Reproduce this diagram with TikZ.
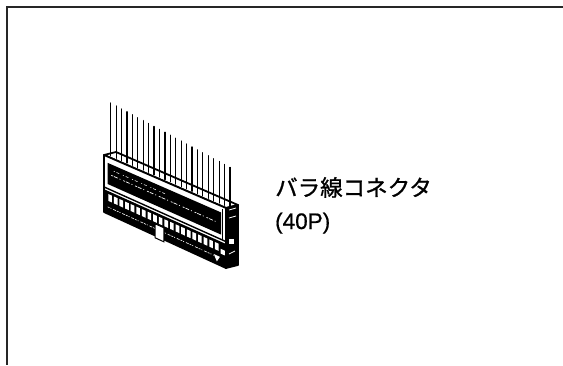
\documentclass[tikz,border=0pt]{standalone}
\usepackage{fontspec}
\newfontfamily\jpfont[FakeBold=1]{Noto Sans CJK JP}
\newfontfamily\latinfont[FakeBold=0.6]{Liberation Sans}
\usetikzlibrary{calc}
% point on the connector front face: #1 along the length, #2 down the height
\newcommand\bl[2]{($($(TL)!#1!(TR)$)!#2!($(BL)!#1!(BR)$)$)}
\begin{document}
\begin{tikzpicture}[x=1pt,y=-1pt,
  frameline/.style={line width=2pt,black!85},
  wire/.style={line width=1.2pt,line cap=round},
  outline/.style={line width=1.8pt,line join=round},
  label/.style={font=\jpfont\fontsize{22.5}{30}\selectfont,anchor=base west,inner sep=0pt},
  latinlabel/.style={font=\latinfont\fontsize{22.5}{30}\selectfont,anchor=base west,inner sep=0pt}]
\useasboundingbox (0,0) rectangle (563,365);
\fill[white] (0,0) rectangle (563,365);

% panel frame (top and left edges)
\coordinate (frameTR) at (563,6.5);
\coordinate (frameC) at (6.5,6.5);
\coordinate (frameBL) at (6.5,365);
\draw[frameline] (frameTR) -- (frameC) -- (frameBL);

% connector body corners
\coordinate (TL) at (104,155);
\coordinate (TR) at (226,208);
\coordinate (BL) at (104,212);
\coordinate (BR) at (226,268);
\coordinate (dep) at (12,-3);

% top face
\filldraw[fill=white,outline] (TL) -- ($(TL)+(dep)$) -- ($(TR)+(dep)$) -- (TR) -- cycle;

% loose wires
\foreach \i in {0,...,22}{
  \pgfmathsetmacro\wx{110.7+\i*5.42}
  \pgfmathsetmacro\wt{103+0.54*(\wx-110.7)}
  \pgfmathsetmacro\wb{155+0.4344*(\wx-104)-2}
  \draw[wire] (\wx,\wt) -- (\wx,\wb);
}

% end face
\filldraw[fill=black,outline] (TR) -- ($(TR)+(dep)$) -- ($(BR)+(dep)$) -- (BR) -- cycle;
\draw[white,line width=0.8pt] ($(TR)+(3,2)$) -- ($(TR)+(10,0)$);
\draw[white,line width=0.8pt] ($(TR)+(3,10)$) -- ($(TR)+(10,8)$);
\fill[white] ($(TR)+(3,31)$) rectangle ($(TR)+(8,36)$);
\draw[white,line width=0.7pt] ($(TR)+(3,46)$) -- ($(TR)+(9,43)$);

% front face
\filldraw[fill=white,outline] \bl{0}{0} -- \bl{1}{0} -- \bl{1}{1} -- \bl{0}{1} -- cycle;

% shroud slot with its moulded lettering
\fill[black] \bl{0.03}{0.11} -- \bl{0.96}{0.11} -- \bl{0.96}{0.48} -- \bl{0.03}{0.48} -- cycle;
\draw[white,line width=0.7pt,dash pattern=on 2pt off 1pt on 4pt off 2pt on 1pt off 3pt]
  \bl{0.06}{0.3} -- \bl{0.92}{0.3};
\draw[white,line width=0.5pt,dash pattern=on 1pt off 2pt on 3pt off 4pt]
  \bl{0.08}{0.21} -- \bl{0.5}{0.21};
\draw[line width=1.4pt] \bl{0}{0.56} -- \bl{1}{0.56};
\draw[line width=1pt] \bl{0.97}{0.05} -- \bl{0.97}{0.56};

% lower block with pin holes
\fill[black] \bl{0}{0.6} -- \bl{1}{0.6} -- \bl{1}{1} -- \bl{0}{1} -- cycle;
\foreach \k in {0,...,19}{
  \pgfmathsetmacro\sa{0.035+\k*0.046}
  \pgfmathsetmacro\sb{\sa+0.03}
  \fill[white] \bl{\sa}{0.65} -- \bl{\sb}{0.65} -- \bl{\sb}{0.77} -- \bl{\sa}{0.77} -- cycle;
}
\draw[white,line width=0.6pt,dash pattern=on 2pt off 1pt on 1pt off 2pt on 3pt off 1pt]
  \bl{0.03}{0.88} -- \bl{0.9}{0.88};

% centre latch and polarity mark
\filldraw[fill=white,draw=black,line width=1pt]
  \bl{0.42}{0.8} -- \bl{0.49}{0.8} -- \bl{0.49}{1.04} -- \bl{0.42}{1.04} -- cycle;
\fill[white] \bl{0.9}{0.86} -- \bl{0.95}{0.86} -- \bl{0.925}{0.96} -- cycle;
\fill[white] \bl{0.955}{0.72} -- \bl{0.99}{0.72} -- \bl{0.99}{0.8} -- \bl{0.955}{0.8} -- cycle;

% caption
\node[label] (title) at (275,196) {バラ線コネクタ};
\node[latinlabel] (pins) at (275,229) {(40P)};
\end{tikzpicture}
\end{document}
